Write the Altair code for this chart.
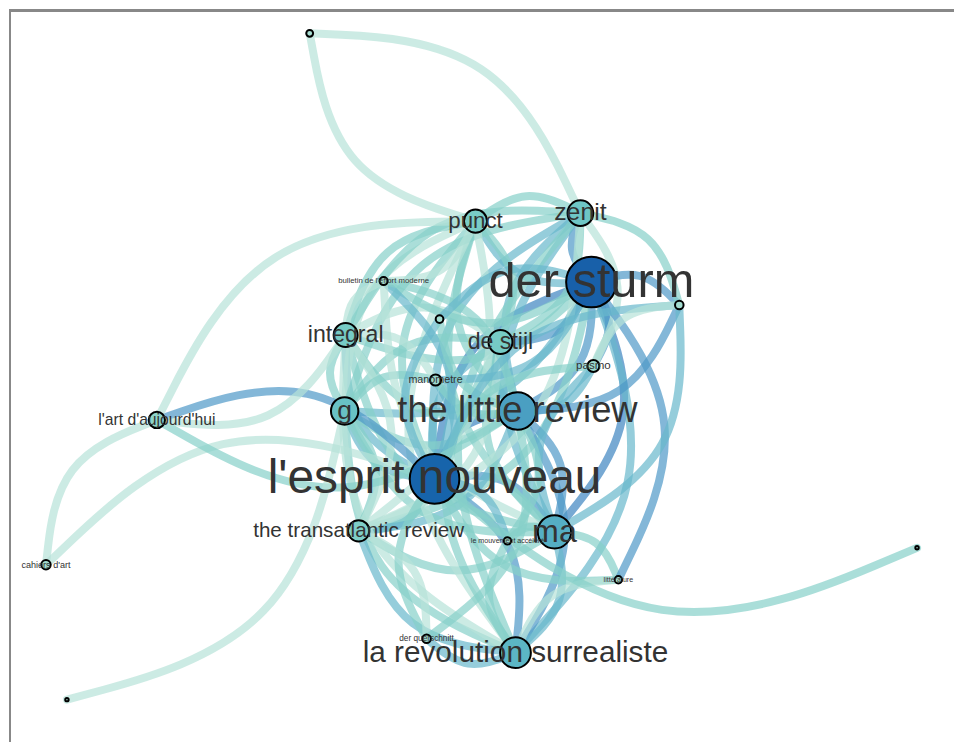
import math
import altair as alt
import pandas as pd

# ---- nodes (layout coordinates) ----
node_id = ["EN", "DS", "LR", "MA", "RS", "G", "IN", "PU", "ZE", "DJ", "TR", "AA",
           "MN", "PA", "BU", "MV", "LI", "QU", "CA", "N1", "N2", "N3", "N4", "N5"]
node_label = ["l'esprit nouveau", "der sturm", "the little review", "ma",
              "la revolution surrealiste", "g", "integral", "punct", "zenit",
              "de stijl", "the transatlantic review", "l'art d'aujourd'hui",
              "manometre", "pasmo", "bulletin de l'effort moderne",
              "le mouvement accéléré", "littérature", "der querschnitt",
              "cahiers d'art", "", "", "", "", ""]
node_x = [435, 592, 518, 555, 516, 345, 346, 476, 581, 501, 359, 157,
          436, 594, 384, 508, 619, 427, 46, 680, 440, 310, 918, 67]
node_y = [478, 281, 410, 531, 652, 410, 334, 220, 212, 341, 530, 419,
          379, 365, 280, 540, 579, 638, 564, 304, 318, 32, 547, 699]
node_value = [29, 29.5, 22, 19.5, 18, 16, 14, 13.5, 15, 14, 12.5, 9.5,
              6.5, 7, 4.7, 4.3, 4.3, 5, 5.5, 5, 4.5, 4, 2, 2]

# ---- edges ----
edge_src = ["EN", "EN", "EN", "EN", "EN", "EN", "EN", "EN", "EN", "EN",
            "DS", "DS", "DS", "DS", "DS", "DS", "DS", "DS", "DS",
            "LR", "LR", "LR", "LR", "LR", "LR", "LR", "LR",
            "MA", "MA", "MA", "MA", "MA", "MA", "MA",
            "RS", "RS", "RS", "RS", "RS", "RS",
            "G", "G", "G", "G", "G",
            "IN", "IN", "IN", "IN",
            "PU", "PU", "PU",
            "ZE", "ZE",
            "DJ",
            "MN", "DS", "LR", "G", "IN",
            "DS", "PA", "MA", "ZE", "EN",
            "DS", "BU", "IN", "PU", "BU", "MA",
            "EN", "MV", "LR", "RS",
            "LI", "RS", "MA", "DS",
            "RS", "QU", "TR", "LR",
            "EN", "N2", "LR",
            "DS", "N1", "EN", "N1", "PA", "ZE",
            "CA", "CA",
            "AA", "LR", "IN", "AA",
            "N3", "PU",
            "N4", "G"]
edge_dst = ["DS", "LR", "MA", "RS", "G", "IN", "PU", "ZE", "DJ", "TR",
            "LR", "MA", "RS", "G", "IN", "PU", "ZE", "DJ", "TR",
            "MA", "RS", "G", "IN", "PU", "ZE", "DJ", "TR",
            "RS", "G", "IN", "PU", "ZE", "DJ", "TR",
            "G", "IN", "PU", "ZE", "DJ", "TR",
            "IN", "PU", "ZE", "DJ", "TR",
            "PU", "ZE", "DJ", "TR",
            "ZE", "DJ", "TR",
            "DJ", "TR",
            "TR",
            "EN", "MN", "MN", "MN", "MN",
            "PA", "LR", "PA", "PA", "PA",
            "BU", "EN", "BU", "BU", "LR", "BU",
            "MV", "MA", "MV", "MV",
            "EN", "LI", "LI", "LI",
            "QU", "EN", "QU", "QU",
            "N2", "DS", "N2",
            "N1", "LR", "N1", "MA", "N1", "N1",
            "AA", "EN",
            "EN", "AA", "AA", "PU",
            "ZE", "N3",
            "EN", "N5"]
edge_weight = [5, 5, 4, 4, 3, 3, 2, 3, 3, 3,
               4, 5, 3, 3, 2, 3, 4, 4, 2,
               4, 4, 2, 2, 2, 3, 3, 3,
               3, 2, 2, 2, 3, 2, 2,
               2, 1, 1, 2, 2, 3,
               2, 1, 2, 2, 2,
               2, 2, 1, 1,
               2, 2, 1,
               2, 1,
               1,
               3, 3, 2, 2, 1,
               4, 3, 3, 1, 2,
               2, 3, 1, 1, 2, 1,
               3, 2, 2, 2,
               2, 1, 2, 4,
               3, 2, 1, 2,
               3, 3, 2,
               4, 4, 3, 3, 1, 2,
               1, 1,
               4, 2, 1, 1,
               1, 1,
               2, 1]

BEND = 0.2  # sagitta as a share of the edge length

pos = {n: (x, y) for n, x, y in zip(node_id, node_x, node_y)}
rows = []
for i, (s, t, w) in enumerate(zip(edge_src, edge_dst, edge_weight)):
    x1, y1 = pos[s]
    x2, y2 = pos[t]
    dx, dy = x2 - x1, y2 - y1
    d = math.hypot(dx, dy)
    nx, ny = dy / d, -dx / d
    cx = (x1 + x2) / 2 + 1.5 * BEND * d * nx
    cy = (y1 + y2) / 2 + 1.5 * BEND * d * ny
    for k, (px, py) in enumerate([(x1, y1), (cx, cy), (x2, y2)]):
        rows.append({"edge": i, "k": k, "x": px, "y": py, "w": w})
edges = pd.DataFrame(rows)

nodes = pd.DataFrame({"id": node_id, "label": node_label, "x": node_x,
                      "y": node_y, "v": node_value})

xs = alt.Scale(domain=[8, 955], nice=False, zero=False)
ys = alt.Scale(domain=[741, 8], nice=False, zero=False)

edge_layer = alt.Chart(edges).mark_line(
    interpolate="basis", strokeWidth=8, opacity=0.7, strokeCap="round"
).encode(
    x=alt.X("x:Q", scale=xs, axis=None),
    y=alt.Y("y:Q", scale=ys, axis=None),
    detail="edge:N",
    order="k:Q",
    color=alt.Color("w:Q", scale=alt.Scale(domain=[1, 2, 3, 4, 5],
                    range=["#b6e3d8", "#86d0c9", "#68b8cc", "#4f98c8", "#3d84c0"]),
                    legend=None),
)

node_layer = alt.Chart(nodes).mark_circle(
    stroke="black", strokeWidth=2, opacity=1
).encode(
    x=alt.X("x:Q", scale=xs, axis=None),
    y=alt.Y("y:Q", scale=ys, axis=None),
    size=alt.Size("v:Q", scale=alt.Scale(type="pow", exponent=2,
                  domain=[0, 30], range=[0, 2642]), legend=None),
    color=alt.Color("v:Q", scale=alt.Scale(domain=[5, 14, 19.5, 22, 29],
                    range=["#a3ddd1", "#76cbc5", "#55aec4", "#4a9fc2", "#1764ab"]),
                    legend=None),
)

label_layer = alt.Chart(nodes).mark_text(
    font="Liberation Sans", color="#333333", align="center", baseline="middle"
).encode(
    x=alt.X("x:Q", scale=xs, axis=None),
    y=alt.Y("y:Q", scale=ys, axis=None),
    text="label:N",
    size=alt.Size("v:Q", scale=alt.Scale(type="linear", domain=[0, 30],
                  range=[0, 49.6]), legend=None),
)

# frame on the left and top edges only (the others run off the page)
frame_left = alt.Chart(nodes).mark_rule(color="#888888", strokeWidth=2).encode(
    x=alt.value(2), y=alt.value(0), y2=alt.value(733))
frame_top = alt.Chart(nodes).mark_rule(color="#888888", strokeWidth=2).encode(
    x=alt.value(2), x2=alt.value(947), y=alt.value(1))

chart = alt.layer(edge_layer, node_layer, label_layer, frame_left, frame_top).resolve_scale(
    color="independent", size="independent"
).properties(
    width=947, height=733, padding=0, background="white"
).configure_view(stroke=None)

chart.save("out.html", embed_options={"renderer": "svg", "actions": False})
